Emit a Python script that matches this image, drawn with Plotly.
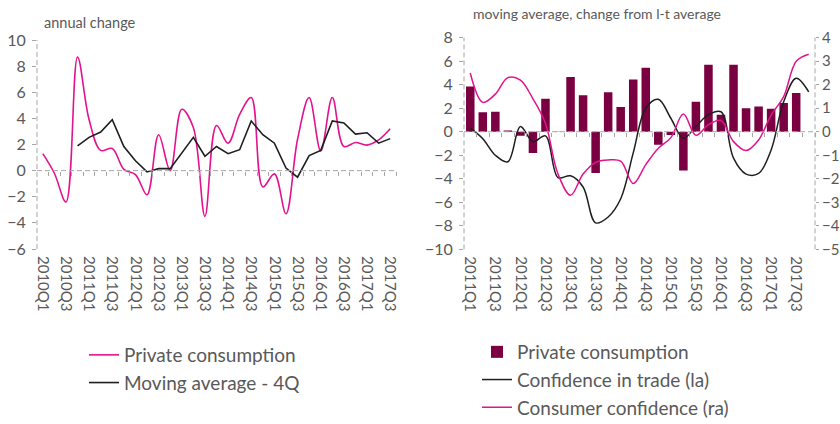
import plotly.graph_objects as go

# ---------------- data ----------------
quarters_left = ['2010Q1', '2010Q2', '2010Q3', '2010Q4', '2011Q1', '2011Q2', '2011Q3', '2011Q4',
                 '2012Q1', '2012Q2', '2012Q3', '2012Q4', '2013Q1', '2013Q2', '2013Q3', '2013Q4',
                 '2014Q1', '2014Q2', '2014Q3', '2014Q4', '2015Q1', '2015Q2', '2015Q3', '2015Q4',
                 '2016Q1', '2016Q2', '2016Q3', '2016Q4', '2017Q1', '2017Q2', '2017Q3']
ticks_left = ['2010Q1', '2010Q3', '2011Q1', '2011Q3', '2012Q1', '2012Q3', '2013Q1', '2013Q3',
              '2014Q1', '2014Q3', '2015Q1', '2015Q3', '2016Q1', '2016Q3', '2017Q1', '2017Q3']
private_consumption_yoy = [1.3, -0.2, -2.4, 8.7, 3.9, 1.55, 1.7, 0.1, -0.3, -1.85, 2.75, 0.0,
                           4.7, 3.3, -3.5, 3.45, 2.1, 4.3, 5.6, -1.25, -0.25, -3.3, 2.4, 5.6,
                           1.5, 5.6, 1.85, 2.15, 1.95, 2.35, 3.2]
moving_average_4q = [None, None, None, 1.9, 2.55, 2.95, 3.9, 1.85, 0.75, -0.1, 0.15, 0.15,
                     1.35, 2.55, 1.1, 1.85, 1.3, 1.6, 3.8, 2.75, 2.1, 0.2, -0.5, 1.15,
                     1.55, 3.8, 3.65, 2.8, 2.9, 2.1, 2.45]

quarters_right = ['2011Q1', '2011Q2', '2011Q3', '2011Q4', '2012Q1', '2012Q2', '2012Q3', '2012Q4',
                  '2013Q1', '2013Q2', '2013Q3', '2013Q4', '2014Q1', '2014Q2', '2014Q3', '2014Q4',
                  '2015Q1', '2015Q2', '2015Q3', '2015Q4', '2016Q1', '2016Q2', '2016Q3', '2016Q4',
                  '2017Q1', '2017Q2', '2017Q3', '2017Q4']
ticks_right = ['2011Q1', '2011Q3', '2012Q1', '2012Q3', '2013Q1', '2013Q3', '2014Q1', '2014Q3',
               '2015Q1', '2015Q3', '2016Q1', '2016Q3', '2017Q1', '2017Q3']
private_consumption_ma = [3.85, 1.65, 1.7, 0.1, -0.35, -1.8, 2.8, 0.03, 4.65, 3.1, -3.5, 3.35,
                          2.1, 4.45, 5.45, -1.1, -0.28, -3.3, 2.55, 5.7, 1.45, 5.7, 2.0, 2.15,
                          1.95, 2.45, 3.3, None]
confidence_trade = [0.3, -0.6, -2.0, -2.55, 0.45, -0.85, -0.35, -3.9, -3.75, -4.7, -7.75, -7.25,
                    -5.7, -1.8, 2.0, 2.76, 1.15, -0.55, 0.45, 1.45, 1.7, -2.25, -3.6, -3.55,
                    -1.55, 2.55, 4.55, 3.4]
consumer_confidence = [2.5, 1.25, 1.6, 2.3, 2.2, 1.4, 0.35, -1.8, -2.7, -1.8, -1.3, -1.2,
                       -1.25, -2.2, -1.4, -0.7, -0.25, 0.75, -0.15, 0.3, 0.48, -0.42, -0.8, -0.35,
                       0.71, 1.49, 3.0, 3.3]

# ---------------- style ----------------
W, H = 840, 424
PINK = '#E3138E'
BLACK = '#1E1E1E'
MAROON = '#7A0041'
GREY = '#A6A6A6'
TXT = '#595959'
FONT = 'Lato'

L_dom_x = [37 / W, 396 / W]
L_dom_y = [1 - 249 / H, 1 - 40 / H]
R_dom_x = [464 / W, 815 / W]
R_dom_y = [1 - 249.3 / H, 1 - 37.7 / H]
L_range = [-6, 10]
R_range = [-10, 8]
R2_range = [-5, 4]


def zero_pos(dom, rng):
    return dom[0] + (0 - rng[0]) / (rng[1] - rng[0]) * (dom[1] - dom[0])


fig = go.Figure()

# left chart
fig.add_trace(go.Scatter(x=quarters_left, y=private_consumption_yoy, name='Private consumption',
                         mode='lines', line=dict(color=PINK, width=1.6, shape='spline', smoothing=1.0),
                         xaxis='x', yaxis='y', legend='legend'))
fig.add_trace(go.Scatter(x=quarters_left, y=moving_average_4q, name='Moving average - 4Q',
                         mode='lines', line=dict(color=BLACK, width=1.6),
                         xaxis='x', yaxis='y', legend='legend'))

# right chart
fig.add_trace(go.Bar(x=quarters_right, y=private_consumption_ma, name='Private consumption',
                     marker=dict(color=MAROON, line=dict(width=0)),
                     xaxis='x2', yaxis='y2', legend='legend2'))
fig.add_trace(go.Scatter(x=quarters_right, y=confidence_trade, name='Confidence in trade (la)',
                         mode='lines', line=dict(color=BLACK, width=1.5, shape='spline', smoothing=1.0),
                         xaxis='x2', yaxis='y2', legend='legend2'))
fig.add_trace(go.Scatter(x=quarters_right, y=consumer_confidence, name='Consumer confidence (ra)',
                         mode='lines', line=dict(color=PINK, width=1.5, shape='spline', smoothing=1.0),
                         xaxis='x2', yaxis='y3', legend='legend2'))

# empty helper traces so the tick-only axes on the zero lines get drawn
fig.add_trace(go.Scatter(x=[None], y=[None], xaxis='x3', yaxis='y', showlegend=False,
                         hoverinfo='skip', mode='lines'))
fig.add_trace(go.Scatter(x=[None], y=[None], xaxis='x4', yaxis='y2', showlegend=False,
                         hoverinfo='skip', mode='lines'))

tickfont = dict(family=FONT, size=16, color=TXT)
xtickfont = dict(family=FONT, size=15, color=TXT)

fig.update_layout(
    width=W, height=H,
    margin=dict(l=0, r=0, t=0, b=0, autoexpand=False),
    paper_bgcolor='white', plot_bgcolor='rgba(0,0,0,0)',
    bargap=0.32,
    showlegend=True,
    hovermode=False,
    xaxis=dict(domain=L_dom_x, anchor='y', type='category', categoryorder='array',
               categoryarray=quarters_left, range=[-0.5, len(quarters_left) - 0.5],
               tickmode='array', tickvals=ticks_left, tickangle=90, ticks='',
               showline=False, showgrid=False, zeroline=False, tickfont=xtickfont,
               ticklabelstandoff=6, automargin=False),
    yaxis=dict(domain=L_dom_y, anchor='x', range=L_range, dtick=2, ticks='outside',
               ticklen=4, tickcolor=GREY, showgrid=False, zeroline=False, showline=False,
               tickfont=tickfont, ticklabelstandoff=3, automargin=False),
    xaxis3=dict(overlaying='x', anchor='free', position=zero_pos(L_dom_y, L_range),
                range=[-0.5, len(quarters_left) - 0.5], tickmode='array',
                tickvals=[i + 0.5 for i in range(len(quarters_left))],
                ticks='outside', ticklen=4, tickcolor=GREY, showticklabels=False,
                showgrid=False, zeroline=False, showline=False, automargin=False),
    xaxis2=dict(domain=R_dom_x, anchor='y2', type='category', categoryorder='array',
                categoryarray=quarters_right, range=[-0.5, len(quarters_right) - 0.5],
                tickmode='array', tickvals=ticks_right, tickangle=90, ticks='',
                showline=False, showgrid=False, zeroline=False, tickfont=xtickfont,
                ticklabelstandoff=6, automargin=False),
    yaxis2=dict(domain=R_dom_y, anchor='x2', range=R_range, dtick=2, ticks='outside',
                ticklen=4, tickcolor=GREY, showgrid=False, zeroline=False, showline=False,
                tickfont=tickfont, ticklabelstandoff=3, automargin=False),
    yaxis3=dict(overlaying='y2', anchor='x2', side='right', range=R2_range, dtick=1,
                ticks='outside', ticklen=3, tickcolor=GREY, showgrid=False, zeroline=False,
                showline=False, tickfont=dict(family=FONT, size=15, color=TXT),
                ticklabelstandoff=0, automargin=False),
    xaxis4=dict(overlaying='x2', anchor='free', position=zero_pos(R_dom_y, R_range),
                range=[-0.5, len(quarters_right) - 0.5], tickmode='array',
                tickvals=[i + 0.5 for i in range(len(quarters_right))],
                ticks='outside', ticklen=4, tickcolor=GREY, showticklabels=False,
                showgrid=False, zeroline=False, showline=False, automargin=False),
    legend=dict(x=84 / W, y=1 - 336 / H, xanchor='left', yanchor='top',
                font=dict(family=FONT, size=19, color=TXT), bgcolor='rgba(0,0,0,0)',
                itemwidth=30, tracegroupgap=0),
    legend2=dict(x=477 / W, y=1 - 333 / H, xanchor='left', yanchor='top',
                 font=dict(family=FONT, size=19, color=TXT), bgcolor='rgba(0,0,0,0)',
                 itemwidth=30, tracegroupgap=0),
    annotations=[
        dict(text='annual change', xref='paper', yref='paper', x=42 / W, y=1 - 22 / H,
             xanchor='left', yanchor='middle', showarrow=False,
             font=dict(family=FONT, size=14.5, color=TXT)),
        dict(text='moving average, change from l-t average', xref='paper', yref='paper',
             x=471 / W, y=1 - 13 / H, xanchor='left', yanchor='middle', showarrow=False,
             font=dict(family=FONT, size=14, color=TXT)),
    ],
)

dash = '5px,3px'
shapes = [
    # left chart: y-axis line and zero line
    dict(type='line', xref='x domain', yref='y domain', x0=0, x1=0, y0=0, y1=1,
         line=dict(color=GREY, width=1, dash=dash)),
    dict(type='line', xref='x domain', yref='y', x0=0, x1=1, y0=0, y1=0,
         line=dict(color=GREY, width=1, dash=dash)),
    # right chart: both y-axis lines and zero line
    dict(type='line', xref='x2 domain', yref='y2 domain', x0=0, x1=0, y0=0, y1=1,
         line=dict(color=GREY, width=1, dash=dash)),
    dict(type='line', xref='x2 domain', yref='y2 domain', x0=1, x1=1, y0=0, y1=1,
         line=dict(color=GREY, width=1, dash=dash)),
    dict(type='line', xref='x2 domain', yref='y2', x0=0, x1=1, y0=0, y1=0,
         line=dict(color=GREY, width=1, dash=dash)),
]
fig.update_layout(shapes=shapes)

# remove the browser's default 8px page margin so the figure fills the window exactly
fig.write_html('out.html',
               config={'displayModeBar': False, 'staticPlot': True},
               post_script="document.body.style.margin='0px';document.body.style.overflow='hidden';")
